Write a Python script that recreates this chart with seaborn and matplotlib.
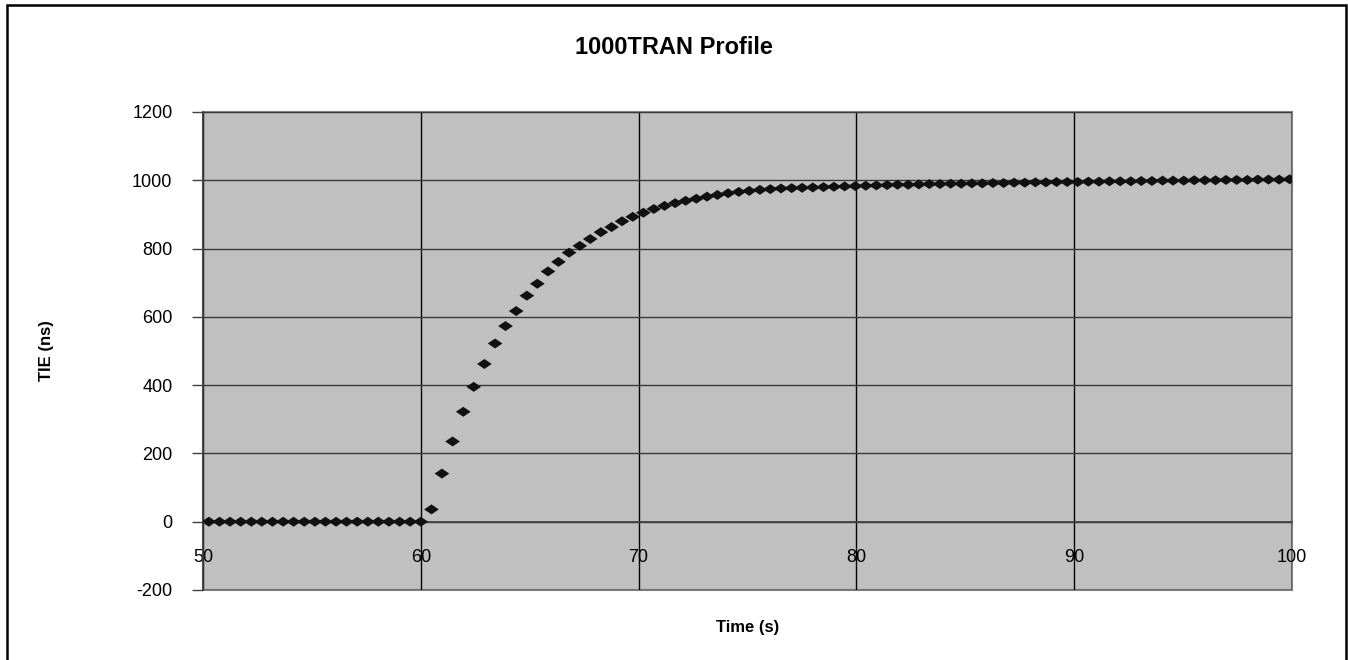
import matplotlib.pyplot as plt
import matplotlib.patches as patches
import pandas as pd
import seaborn as sns

# sample times (s)
time_s = [50.27, 50.76, 51.24, 51.73, 52.22, 52.70, 53.19, 53.68, 54.16, 54.65,
          55.14, 55.62, 56.11, 56.59, 57.08, 57.57, 58.05, 58.54, 59.03, 59.51,
          60.00, 60.49, 60.97, 61.46, 61.95, 62.43, 62.92, 63.41, 63.89, 64.38,
          64.87, 65.35, 65.84, 66.32, 66.81, 67.30, 67.78, 68.27, 68.76, 69.24,
          69.73, 70.22, 70.70, 71.19, 71.68, 72.16, 72.65, 73.14, 73.62, 74.11,
          74.60, 75.08, 75.57, 76.05, 76.54, 77.03, 77.51, 78.00, 78.49, 78.97,
          79.46, 79.95, 80.43, 80.92, 81.41, 81.89, 82.38, 82.87, 83.35, 83.84,
          84.33, 84.81, 85.30, 85.78, 86.27, 86.76, 87.24, 87.73, 88.22, 88.70,
          89.19, 89.68, 90.16, 90.65, 91.14, 91.62, 92.11, 92.60, 93.08, 93.57,
          94.06, 94.54, 95.03, 95.51, 96.00, 96.49, 96.97, 97.46, 97.95, 98.43,
          98.92, 99.41, 99.89]

# TIE values (ns)
tie_ns = [0, 0, 0, 0, 0, 0, 0, 0, 0, 0,
          0, 0, 0, 0, 0, 0, 0, 0, 0, 0,
          0, 36, 141, 235, 322, 395, 462, 522, 573, 617,
          662, 697, 733, 761, 788, 808, 828, 848, 863, 880,
          893, 905, 916, 925, 933, 940, 946, 952, 957, 962,
          966, 969, 972, 974, 976, 977, 978, 979, 980, 981,
          982, 983, 984, 985, 986, 987, 987, 988, 989, 989,
          990, 990, 991, 991, 992, 992, 993, 993, 994, 994,
          995, 995, 995, 996, 996, 997, 997, 997, 998, 998,
          999, 999, 999, 1000, 1000, 1000, 1001, 1001, 1001, 1002,
          1002, 1002, 1003]

x_ticks = [50, 60, 70, 80, 90, 100]
y_ticks = [-200, 0, 200, 400, 600, 800, 1000, 1200]

df = pd.DataFrame({'Time': time_s, 'TIE': tie_ns})

sns.set_theme(style='white')
plt.rcParams['font.family'] = ['Liberation Sans', 'DejaVu Sans']
plt.rcParams['axes.unicode_minus'] = False
plt.rcParams['text.color'] = 'black'
plt.rcParams['axes.labelcolor'] = 'black'

fig = plt.figure(figsize=(13.48, 6.6), dpi=100)
ax = fig.add_axes([203 / 1348, 1 - 590 / 660, 1089 / 1348, 478 / 660])

# flattened diamond like the Excel marker
diamond = [(-1, 0), (0, 0.68), (1, 0), (0, -0.68)]
sns.scatterplot(data=df, x='Time', y='TIE', ax=ax, marker=diamond, s=112,
                color='#111111', linewidth=0, edgecolor='none', zorder=3)

ax.set_xlim(50, 100)
ax.set_ylim(-200, 1200)
ax.set_xticks(x_ticks)
ax.set_yticks(y_ticks)

ax.set_facecolor('#c0c0c0')
ax.patch.set_edgecolor('#808080')
ax.patch.set_linewidth(1.5)
ax.set_axisbelow(True)
ax.xaxis.grid(True, color='#000000', linewidth=1)
ax.yaxis.grid(True, color='#3a3a3a', linewidth=1)

for side in ['top', 'right']:
    ax.spines[side].set_visible(False)
ax.spines['left'].set_color('#404040')
ax.spines['left'].set_linewidth(1.2)
ax.spines['bottom'].set_position(('data', 0))
ax.spines['bottom'].set_color('#404040')
ax.spines['bottom'].set_linewidth(1.2)

ax.tick_params(axis='y', left=True, length=8, width=1, color='#404040',
               pad=14, labelsize=13, labelcolor='black')
ax.tick_params(axis='x', bottom=False, length=0, pad=20, labelsize=13,
               labelcolor='black')

ax.set_xlabel('Time (s)', fontsize=12, fontweight='bold', color='black')
ax.set_ylabel('TIE (ns)', fontsize=12, fontweight='bold', color='black')
ax.xaxis.set_label_coords(0.5, -0.063)
ax.yaxis.set_label_coords(-0.137, 0.5)

fig.suptitle('1000TRAN Profile', x=0.5, y=1 - 47 / 660, va='center',
             fontsize=17, fontweight='bold', color='black')

# outer chart border
fig.add_artist(patches.Rectangle((7 / 1348, -0.05), 1339 / 1348, 1.05 - 5 / 660,
                                 transform=fig.transFigure, fill=False,
                                 edgecolor='black', linewidth=1.8))

fig.savefig('out.png', dpi=100)
